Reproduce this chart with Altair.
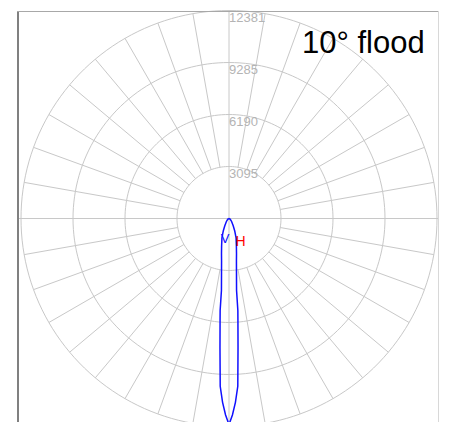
import altair as alt
import pandas as pd
import numpy as np

# ---- data ----
ring_values = [3095, 6190, 9285, 12381]
ring_labels = ["3095", "6190", "9285", "12381"]
spoke_angles = list(range(0, 360, 10))
# V-plane intensity (cd) vs angle from nadir (deg), symmetric beam
v_angles = [0, 1, 2, 3, 4, 5, 5.5, 6, 8, 10, 12, 15, 20, 25, 30, 40, 60, 90]
v_cd = [12260, 11700, 10950, 10000, 7700, 6100, 5500, 4300, 3200, 2550,
        2150, 1700, 1230, 800, 500, 250, 90, 0]
title_text = "10° flood"
v_label = "V"
h_label = "H"

# ---- layout ----
R = 12381
K = R / 208.0          # cd per pixel
W, H = 420, 414
CX, CY = 210, 207.5
xdom = [-CX * K, (W - CX) * K]
ydom = [-(H - CY) * K, CY * K]
GRID = "#c8c8c8"

xs = alt.Scale(domain=xdom, nice=False, zero=False)
ys = alt.Scale(domain=ydom, nice=False, zero=False)

# rings
rows = []
for r in ring_values:
    for i, a in enumerate(range(0, 362, 2)):
        t = np.radians(a)
        rows.append({"ring": r, "i": i, "x": r * np.sin(t), "y": r * np.cos(t)})
rings_df = pd.DataFrame(rows)

# spokes
rows = []
for a in spoke_angles:
    r0 = 0 if a % 90 == 0 else ring_values[0]
    r1 = R * 1.2 if a % 90 == 0 else R
    t = np.radians(a)
    for j, r in enumerate([r0, r1]):
        rows.append({"spoke": a, "i": j, "x": r * np.sin(t), "y": r * np.cos(t)})
spokes_df = pd.DataFrame(rows)

# curve
ang_full = [-a for a in reversed(v_angles[1:])] + v_angles
cd_full = list(reversed(v_cd[1:])) + v_cd
curve_df = pd.DataFrame({"ang": ang_full, "cd": cd_full, "i": list(range(len(ang_full)))})

labels_df = pd.DataFrame({"r": ring_values, "lab": ring_labels, "x0": [0] * len(ring_values)})
one = pd.DataFrame({"t": [title_text]})

rings = alt.Chart(rings_df).mark_line(color=GRID, strokeWidth=1).encode(
    x=alt.X("x:Q", scale=xs, axis=None),
    y=alt.Y("y:Q", scale=ys, axis=None),
    detail="ring:N", order="i:Q")

spokes = alt.Chart(spokes_df).mark_line(color=GRID, strokeWidth=1, clip=True).encode(
    x=alt.X("x:Q", scale=xs, axis=None),
    y=alt.Y("y:Q", scale=ys, axis=None),
    detail="spoke:N", order="i:Q")

curve = alt.Chart(curve_df).transform_calculate(
    px="datum.cd * sin(datum.ang * PI / 180)",
    py="-datum.cd * cos(datum.ang * PI / 180)",
).mark_line(color="#1010ff", strokeWidth=1.5).encode(
    x=alt.X("px:Q", scale=xs, axis=None),
    y=alt.Y("py:Q", scale=ys, axis=None),
    order="i:Q")

ticklabels = alt.Chart(labels_df).mark_text(
    align="left", baseline="top", dx=0, dy=1, fontSize=13,
    font="Liberation Sans", color="#b4b4b4").encode(
    x=alt.X("x0:Q", scale=xs, axis=None),
    y=alt.Y("r:Q", scale=ys, axis=None), text="lab:N")

title = alt.Chart(one).mark_text(
    align="left", baseline="alphabetic", fontSize=31,
    font="Liberation Sans", color="black").encode(
    x=alt.value(283), y=alt.value(42), text="t:N")

vtxt = alt.Chart(pd.DataFrame({"t": [v_label]})).mark_text(
    align="center", baseline="middle", fontSize=13,
    font="Liberation Sans", color="#1010ff").encode(
    x=alt.value(206), y=alt.value(228), text="t:N")

htxt = alt.Chart(pd.DataFrame({"t": [h_label]})).mark_text(
    align="center", baseline="middle", fontSize=14,
    font="Liberation Sans", color="#ff0000").encode(
    x=alt.value(221.5), y=alt.value(231), text="t:N")

left_border = alt.Chart(one).mark_rule(color="#808080", strokeWidth=2).encode(
    x=alt.value(-1), y=alt.value(0), y2=alt.value(H))
top_border = alt.Chart(one).mark_rule(color="#a8a8a8", strokeWidth=1).encode(
    x=alt.value(-2), x2=alt.value(420), y=alt.value(0.5))
right_border = alt.Chart(one).mark_rule(color="#d8d8d8", strokeWidth=1).encode(
    x=alt.value(419.5), y=alt.value(0), y2=alt.value(H))

chart = alt.layer(
    rings, spokes, ticklabels, curve, title, vtxt, htxt,
    left_border, top_border, right_border
).properties(
    width=W, height=H,
    padding={"left": 8, "top": 0, "right": 0, "bottom": 0},
    background="white",
).configure_view(stroke=None)

chart.save("out.html", embed_options={"renderer": "svg", "actions": False})
